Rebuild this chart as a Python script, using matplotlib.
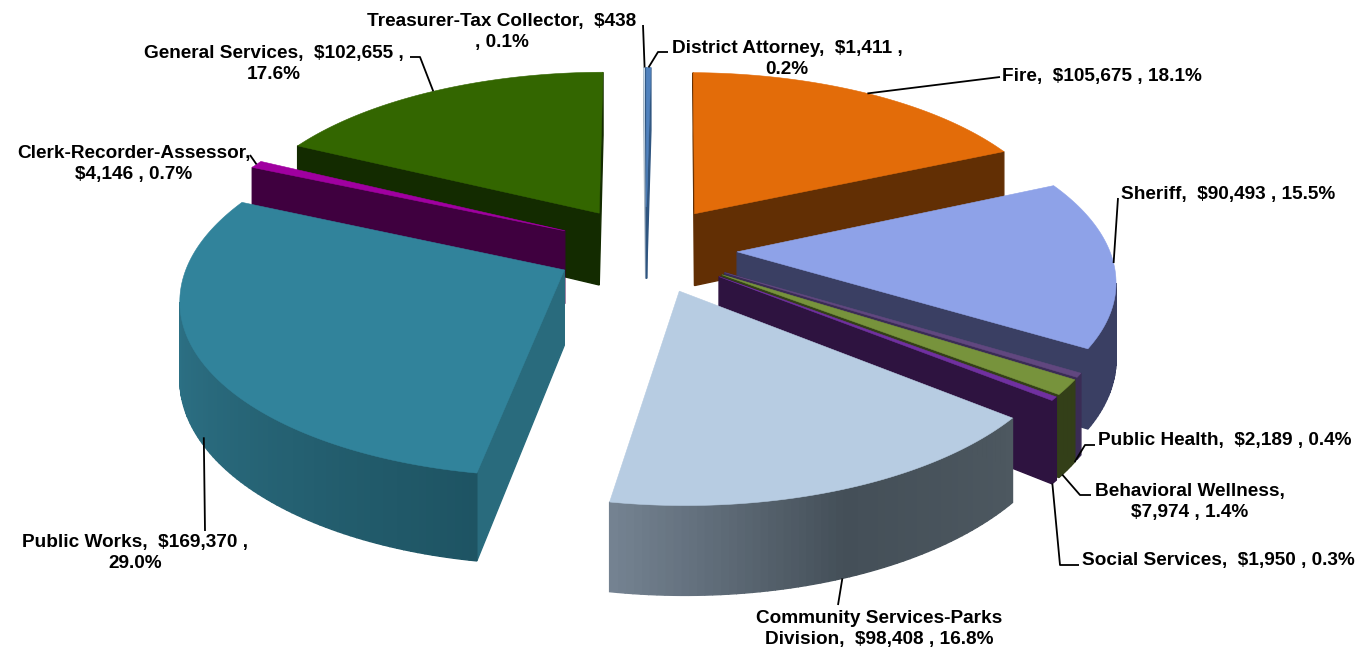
#!/usr/bin/env python3
"""Exploded 3D pie of department budgets, drawn as projected polygons."""

import numpy as np
import matplotlib
matplotlib.use('Agg')
import matplotlib.pyplot as plt
from matplotlib.colors import to_rgb
from matplotlib.patches import Polygon

plt.rcParams['font.family'] = ['Liberation Sans', 'DejaVu Sans']

# Data, clockwise from 12 o'clock
departments = ['Fire', 'Sheriff', 'Public Health', 'Behavioral Wellness',
               'Social Services', 'Community Services-Parks Division',
               'Public Works', 'Clerk-Recorder-Assessor', 'General Services',
               'Treasurer-Tax Collector', 'District Attorney']
amounts = [105675, 90493, 2189, 7974, 1950, 98408, 169370, 4146, 102655, 438, 1411]
labels = ['Fire,  $105,675 , 18.1%',
          'Sheriff,  $90,493 , 15.5%',
          'Public Health,  $2,189 , 0.4%',
          'Behavioral Wellness,\n$7,974 , 1.4%',
          'Social Services,  $1,950 , 0.3%',
          'Community Services-Parks\nDivision,  $98,408 , 16.8%',
          'Public Works,  $169,370 ,\n29.0%',
          'Clerk-Recorder-Assessor,\n$4,146 , 0.7%',
          'General Services,  $102,655 ,\n17.6%',
          'Treasurer-Tax Collector,  $438\n, 0.1%',
          'District Attorney,  $1,411 ,\n0.2%']

# Colours: top face, cut faces, outer wall stops
top_colors = ['#E36C09', '#8EA2E8', '#61477F', '#77933C', '#7030A0', '#B7CCE2',
              '#31839B', '#A000A0', '#336600', '#C6D9EA', '#4F81BD']
cut_colors = ['#622F04', '#3A3F63', '#3A2C55', '#333F18', '#2E1340', '#4D5860',
              '#296B7D', '#3F003F', '#132B00', '#A9B8C6', '#2F5580']
wall_colors = [['#622F04'], ['#3A3F63'], ['#3A2C55'], ['#333F18'], ['#2E1340'],
               ['#4D5860', '#444F58', '#748291'],
               ['#1E5463', '#2A6B7E', '#2F7A90'],
               ['#3F003F'], ['#132B00'], ['#A9B8C6'], ['#2F5580']]

# Label layout in pixels: centre x, centre y
label_pos = [(1102, 77), (1228, 195), (1225, 440), (1190, 502), (1218, 561),
             (879, 629), (135, 553), (134, 164), (274, 64), (502, 32), (787, 59)]
# Elbow points of the leader lines, the last end is on the slice's arc
leader_pts = [[(1000, 77)],
              [(1118, 198)],
              [(1095, 445), (1085, 445)],
              [(1091, 495), (1080, 495)],
              [(1079, 565), (1060, 565)],
              [(838, 605)],
              [(205, 531)],
              [(250, 155)],
              [(410, 57), (420, 57)],
              [(643, 25)],
              [(668, 52), (658, 52)]]
leader_depth = [0, 0, 1.0, 1.0, 1.0, 1.0, 0.9, 0, 0, 0, 0]
leader_nudge = [0, 0, 1.5, 1.5, 0.5, 0, -1.5, 0, 0, 0, 0]  # degrees along the arc

# Projection parameters
CX, CY = 646, 249
FX, FY = 372, 174
PERSP = 0.1455
EXPLODE_X, EXPLODE_Y = 0.245, 0.25
RADIUS_Y = 0.98
ROTATION = np.radians(0.8)
THICK = 74


def project(x, y, depth=0.0):
    """Pie plane coordinates (radius 1, y away from viewer) to pixels"""
    w = 1 + PERSP * y
    return CX + FX * x / w, CY - (FY * y - THICK * depth) / w


def offset(mid):
    return EXPLODE_X * np.sin(mid), EXPLODE_Y * np.cos(mid)


def slice_outline(start, end):
    """Tip and arc points of one exploded slice, angles clockwise from top"""
    ox, oy = offset((start + end) / 2)
    n = max(2, int(np.degrees(end - start)) + 1)
    angles = np.linspace(start, end, n)
    return (ox, oy), ox + np.sin(angles), oy + RADIUS_Y * np.cos(angles)


def blend(stops, t):
    """Colour at position t along a list of colour stops"""
    rgb = np.array([to_rgb(c) for c in stops])
    pos = np.linspace(0, 1, len(stops))
    return tuple(np.interp(t, pos, rgb[:, i]) for i in range(3))


def face_visible(p, q):
    """True if the wall between outline points p and q faces the viewer"""
    quad = [project(*p), project(*q), project(*q, 1), project(*p, 1)]
    xs, ys = np.array(quad).T
    area = np.sum(xs * np.roll(ys, -1) - np.roll(xs, -1) * ys)
    return area < 0


def draw_quad(ax, p, q, color):
    if face_visible(p, q):
        quad = [project(*p), project(*q), project(*q, 1), project(*p, 1)]
        ax.add_patch(Polygon(quad, facecolor=color, edgecolor=color, lw=1.0))


def draw_slice(ax, i, start, end):
    tip, xs, ys = slice_outline(start, end)
    first, last = (xs[0], ys[0]), (xs[-1], ys[-1])
    draw_quad(ax, tip, first, cut_colors[i])
    draw_quad(ax, last, tip, cut_colors[i])
    for k in range(len(xs) - 1):
        t = k / max(1, len(xs) - 2)
        draw_quad(ax, (xs[k], ys[k]), (xs[k + 1], ys[k + 1]),
                  blend(wall_colors[i], t))
    top = [project(*tip)] + [project(x, y) for x, y in zip(xs, ys)]
    ax.add_patch(Polygon(top, facecolor=top_colors[i], edgecolor=top_colors[i], lw=0.4))


def main():
    fig = plt.figure(figsize=(13.61, 6.49), dpi=100)
    ax = fig.add_axes([0, 0, 1, 1])
    ax.set_xlim(0, 1361)
    ax.set_ylim(649, 0)
    ax.axis('off')

    shares = np.array(amounts, dtype=float)
    edges = np.concatenate([[0], np.cumsum(shares) / shares.sum()]) * 2 * np.pi + ROTATION
    mids = (edges[:-1] + edges[1:]) / 2

    # Back to front
    for i in sorted(range(len(amounts)), key=lambda j: -np.cos(mids[j])):
        draw_slice(ax, i, edges[i], edges[i + 1])

    for i, text in enumerate(labels):
        ax.text(*label_pos[i], text, ha='center', va='center', fontsize=13.7,
                fontweight='bold', color='black', linespacing=1.3)
        ox, oy = offset(mids[i])
        a = mids[i] + np.radians(leader_nudge[i])
        end = project(ox + np.sin(a), oy + RADIUS_Y * np.cos(a), leader_depth[i])
        px, py = zip(*(leader_pts[i] + [end]))
        ax.plot(px, py, color='black', lw=1.3, solid_capstyle='butt')

    fig.savefig('out.png', dpi=100, facecolor='white')


if __name__ == '__main__':
    main()
